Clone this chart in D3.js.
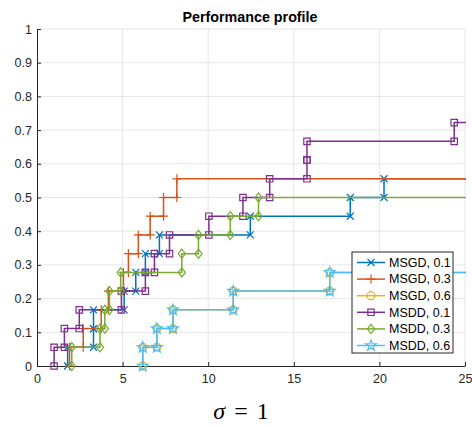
<!DOCTYPE html>
<html>
<head>
<meta charset="utf-8">
<script src="https://cdn.jsdelivr.net/npm/d3@7"></script>
<style>
  body { margin: 0; background: #fff; }
  svg { display: block; }
</style>
</head>
<body>
<div class="chart"></div>
<script>
// performance ratios (sorted), one entry per solved problem; profile step = 1/18
const nProblems = 18;
const seriesNames = ["MSGD, 0.1", "MSGD, 0.3", "MSGD, 0.6", "MSDD, 0.1", "MSDD, 0.3", "MSDD, 0.6"];
const msgd01 = [1.79, 3.3, 3.3, 5.09, 5.77, 6.33, 7.15, 12.46, 18.3, 20.27];
const msgd03 = [1.9, 2.7, 3.75, 4.17, 5.05, 5.34, 5.92, 6.61, 7.39, 8.17];
const msgd06 = [6.18, 7.0, 7.94, 11.46, 17.1];
const msdd01 = [1.0, 1.6, 2.47, 4.93, 6.33, 6.86, 7.74, 10.04, 12.03, 13.59, 15.77, 15.77, 24.37];
const msdd03 = [2.03, 3.68, 3.96, 4.23, 4.89, 8.46, 9.43, 11.29, 12.94];
const msdd06 = [6.18, 7.0, 7.94, 11.46, 17.1];
const maxRatio = 30;
const xTicks = [0, 5, 10, 15, 20, 25];
const yTicks = [0, 0.1, 0.2, 0.3, 0.4, 0.5, 0.6, 0.7, 0.8, 0.9, 1];

const colors = ["#0072BD", "#D95319", "#EDB120", "#7E2F8E", "#77AC30", "#4DBEEE"];
const markers = ["x", "plus", "circle", "square", "diamond", "star"];
const allSeries = [msgd01, msgd03, msgd06, msdd01, msdd03, msdd06];

const w = 472, h = 427;
const padL = 37, padR = 465, padT = 29, padB = 366;

const x = d3.scaleLinear().domain([0, 25]).range([padL, padR]);
const y = d3.scaleLinear().domain([0, 1]).range([padB, padT]);

const svg = d3.select(".chart").append("svg")
    .attr("width", w).attr("height", h)
    .style("font-family", "'Liberation Sans', Arial, sans-serif");

// grid
svg.append("g").selectAll("line").data(xTicks.slice(1)).enter().append("line")
    .attr("x1", d => x(d)).attr("x2", d => x(d))
    .attr("y1", padT).attr("y2", padB)
    .attr("stroke", "#e6e6e6").attr("stroke-width", 1);
svg.append("g").selectAll("line").data(yTicks.slice(1)).enter().append("line")
    .attr("x1", padL).attr("x2", padR)
    .attr("y1", d => y(d)).attr("y2", d => y(d))
    .attr("stroke", "#e6e6e6").attr("stroke-width", 1);

// axes
const xAxis = d3.axisBottom(x).tickValues(xTicks).tickSizeInner(-4).tickSizeOuter(0).tickPadding(8);
const yAxis = d3.axisLeft(y).tickValues(yTicks).tickSizeInner(-4).tickSizeOuter(0).tickPadding(5)
    .tickFormat(d => d === 0 || d === 1 ? d3.format("d")(d) : d3.format(".1f")(d));

const gx = svg.append("g").attr("transform", `translate(0,${padB})`).call(xAxis);
const gy = svg.append("g").attr("transform", `translate(${padL},0)`).call(yAxis);
[gx, gy].forEach(g => {
  g.select(".domain").attr("stroke", "#262626");
  g.selectAll(".tick line").attr("stroke", "#262626");
  g.selectAll(".tick text").attr("fill", "#262626").style("font-size", "12.5px")
    .style("font-family", "'Liberation Sans', Arial, sans-serif");
});

// stair vertices like MATLAB's stairs()
const stairPoints = (r) => {
  const pts = [[r[0], 0]];
  r.forEach((v, i) => {
    pts.push([v, (i + 1) / nProblems]);
    const nx = i < r.length - 1 ? r[i + 1] : maxRatio;
    pts.push([nx, (i + 1) / nProblems]);
  });
  return pts;
};

const markerPath = (type) => {
  switch (type) {
    case "x": return "M-3.5,-3.5L3.5,3.5M-3.5,3.5L3.5,-3.5";
    case "plus": return "M-4.5,0L4.5,0M0,-4.5L0,4.5";
    case "circle": return d3.symbol(d3.symbolCircle, 50)();
    case "square": return "M-3.2,-3.2H3.2V3.2H-3.2Z";
    case "diamond": return "M0,-4.6L3.6,0L0,4.6L-3.6,0Z";
    case "star": return d3.symbol(d3.symbolStar, 36)();
  }
};

svg.append("clipPath").attr("id", "clip")
  .append("rect").attr("x", padL).attr("y", 0).attr("width", padR - padL + 1).attr("height", h);

const line = d3.line().x(d => x(d[0])).y(d => y(d[1]));
const plot = svg.append("g").attr("clip-path", "url(#clip)");

allSeries.forEach((r, s) => {
  const pts = stairPoints(r);
  plot.append("path")
      .attr("d", line(pts))
      .attr("fill", "none")
      .attr("stroke", colors[s])
      .attr("stroke-width", 1.5);
  plot.selectAll(null).data(pts).enter().append("path")
      .attr("transform", d => `translate(${x(d[0])},${y(d[1])})`)
      .attr("d", markerPath(markers[s]))
      .attr("fill", "none")
      .attr("stroke", colors[s])
      .attr("stroke-width", 1.2);
});

// title and x label
svg.append("text")
    .attr("x", 250).attr("y", 22)
    .attr("text-anchor", "middle")
    .style("font-weight", "bold").style("font-size", "14.3px")
    .attr("fill", "#000")
    .text("Performance profile");

const xl = svg.append("text")
    .attr("x", 241).attr("y", 419)
    .attr("text-anchor", "middle")
    .style("font-family", "'Liberation Serif', 'DejaVu Serif', serif")
    .style("font-size", "24px")
    .attr("fill", "#000");
xl.append("tspan").style("font-style", "italic").text("σ");
xl.append("tspan").attr("dx", 9).text("=");
xl.append("tspan").attr("dx", 9).text("1");

// legend
const lg = svg.append("g").attr("transform", "translate(352,252)");
lg.append("rect").attr("width", 101).attr("height", 101)
    .attr("fill", "#fff").attr("stroke", "#262626").attr("stroke-width", 1);
seriesNames.forEach((name, i) => {
  const yy = 10.5 + i * 16.6;
  lg.append("line").attr("x1", 5).attr("x2", 33).attr("y1", yy).attr("y2", yy)
      .attr("stroke", colors[i]).attr("stroke-width", 1.5);
  lg.append("path").attr("transform", `translate(19,${yy})`)
      .attr("d", markerPath(markers[i]))
      .attr("fill", "none").attr("stroke", colors[i]).attr("stroke-width", 1.2);
  lg.append("text").attr("x", 37).attr("y", yy + 4.3)
      .style("font-size", "12.5px").attr("fill", "#000")
      .text(name);
});
</script>
</body>
</html>
